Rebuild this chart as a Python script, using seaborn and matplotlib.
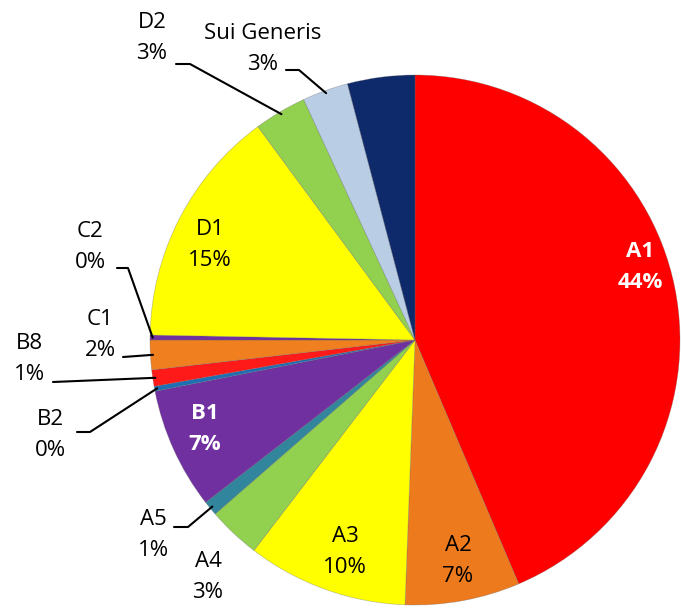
import numpy as np
import matplotlib.pyplot as plt
import seaborn as sns

# shares per use class, clockwise from 12 o'clock (last slice is unlabeled)
labels = ['A1', 'A2', 'A3', 'A4', 'A5', 'B1', 'B2', 'B8', 'C1', 'C2', 'D1', 'D2', 'Sui Generis', '']
values = [43.6, 7.0, 9.8, 3.2, 0.9, 7.4, 0.3, 1.0, 1.8, 0.3, 14.6, 3.2, 2.8, 4.1]
colors = ['#FF0000', '#EE7A1E', '#FFFF00', '#92D050', '#31859C', '#7030A0', '#1F6FB5',
          '#FF1A1A', '#F07F20', '#7030A0', '#FFFF00', '#92D050', '#B9CDE5', '#0F2A6B']

sns.set_theme(style='white')
plt.rcParams['font.family'] = ['Open Sans', 'DejaVu Sans']

W, H = 681, 609
CX, CY, R = 415, 340, 265


def P(px, py):
    # pixel position in the reference -> data coords (pie radius = 1)
    return (px - CX) / R, (CY - py) / R


fig = plt.figure(figsize=(W / 100, H / 100), dpi=100)
ax = fig.add_axes([0, 0, 1, 1])
wedges, _ = ax.pie(values, colors=colors, startangle=90, counterclock=False, radius=1,
                   wedgeprops=dict(edgecolor='#66666666', linewidth=0.5))
ax.set_xlim(-CX / R, (W - CX) / R)
ax.set_ylim(-(H - CY) / R, CY / R)
ax.set_aspect('equal')
ax.axis('off')

pct = {lab: f'{round(v)}%' for lab, v in zip(labels, values) if lab}

# label placement: (x, y in pixels, text colour)
label_pos = {
    'A1': (640, 267, 'white'),
    'A2': (458, 561, 'black'),
    'A3': (345, 552, 'black'),
    'A4': (208, 577, 'black'),
    'A5': (153, 535, 'black'),
    'B1': (205, 429, 'white'),
    'B2': (50, 435, 'black'),
    'B8': (29, 359, 'black'),
    'C1': (100, 335, 'black'),
    'C2': (90, 247, 'black'),
    'D1': (210, 245, 'black'),
    'D2': (152, 38, 'black'),
    'Sui Generis': (263, 49, 'black'),
}
for lab, (px, py, c) in label_pos.items():
    x, y = P(px, py)
    ax.text(x, y, f'{lab}\n{pct[lab]}', ha='center', va='center', fontsize=16,
            color=c, fontweight='bold' if c == 'white' else 'normal', linespacing=1.6)

# leader lines: stub start, stub end (None = straight to slice)
leaders = {
    'A5': ((174, 527), (188, 527)),
    'B2': ((77, 432), (90, 432)),
    'B8': ((53, 382), None),
    'C1': ((123, 357), None),
    'C2': ((117, 268), (128, 268)),
    'D2': ((176, 64), (190, 64)),
    'Sui Generis': ((286, 70), (299, 70)),
}
for lab, (s0, s1) in leaders.items():
    w = wedges[labels.index(lab)]
    mid = np.deg2rad((w.theta1 + w.theta2) / 2)
    pts = [P(*s0)]
    if s1 is not None:
        pts.append(P(*s1))
    pts.append((0.99 * np.cos(mid), 0.99 * np.sin(mid)))
    xs, ys = zip(*pts)
    ax.plot(xs, ys, color='black', lw=1.5)

fig.savefig('out.png', dpi=100)
